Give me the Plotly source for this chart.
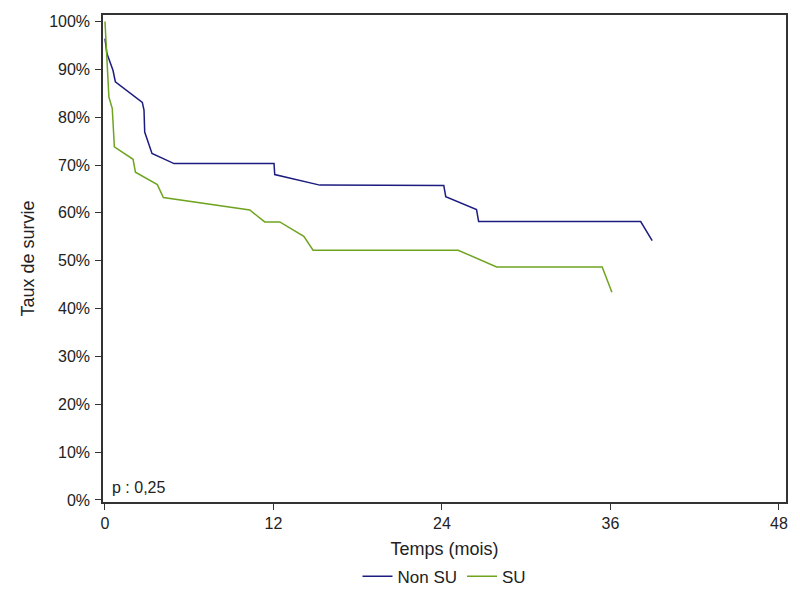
import plotly.graph_objects as go

# Kaplan-Meier curves (months, % survival)
t_non_su = [0, 0.05, 0.14, 0.57, 0.74, 2.66, 2.78, 2.83, 3.35, 4.92, 12.04, 12.09,
            15.30, 24.13, 24.27, 26.46, 26.61, 38.15, 38.97]
s_non_su = [96.4, 95.0, 93.3, 89.8, 87.4, 83.1, 81.5, 76.9, 72.4, 70.3, 70.3, 68.0,
            65.8, 65.7, 63.4, 60.7, 58.2, 58.2, 54.2]

t_su = [0, 0.28, 0.52, 0.67, 2.00, 2.17, 3.73, 4.16, 10.31, 11.38, 12.45, 14.16,
        14.82, 25.15, 27.89, 35.41, 36.10]
s_su = [100, 84.2, 81.8, 73.8, 71.2, 68.5, 65.9, 63.2, 60.6, 58.1, 58.1, 55.1,
        52.2, 52.2, 48.7, 48.7, 43.4]

x_ticks = [0, 12, 24, 36, 48]
y_ticks = list(range(0, 101, 10))
y_labels = ['{}%'.format(v) for v in y_ticks]

font = 'Liberation Sans, Arial, sans-serif'

trace1 = go.Scatter(x=t_non_su, y=s_non_su, mode='lines', name='Non SU',
                    line={'color': '#1c1c80', 'width': 1.5})
trace2 = go.Scatter(x=t_su, y=s_su, mode='lines', name='SU',
                    line={'color': '#6fa421', 'width': 1.5})

fig = go.Figure(data=[trace1, trace2])

axis_style = dict(showline=True, mirror=True, linecolor='#333333', linewidth=1.5,
                  ticks='outside', ticklen=6, tickcolor='#333333', tickwidth=1.2,
                  showgrid=False, zeroline=False, automargin=False,
                  tickfont={'size': 16, 'color': '#222222'})

# page body has an 8px margin, so the figure is sized 784x584
fig.update_layout(
    width=784, height=584,
    margin={'l': 95, 'r': 6, 't': 7, 'b': 90, 'autoexpand': False},
    plot_bgcolor='white', paper_bgcolor='white',
    font={'family': font, 'color': '#222222'},
    showlegend=True,
    legend={'orientation': 'h', 'x': 0.5, 'xanchor': 'center', 'yref': 'container',
            'y': 0.026, 'yanchor': 'middle', 'font': {'size': 17}},
    xaxis=dict(axis_style, range=[-0.14, 48.5], tickvals=x_ticks,
               title={'text': 'Temps (mois)', 'font': {'size': 18}, 'standoff': 14}),
    yaxis=dict(axis_style, range=[-0.42, 101.35], tickvals=y_ticks, ticktext=y_labels,
               ticklabelstandoff=2,
               title={'text': 'Taux de survie', 'font': {'size': 18}, 'standoff': 10}),
)

fig.add_annotation(text='p : 0,25', xref='paper', yref='paper', x=0.01, y=0.030,
                   xanchor='left', yanchor='middle', showarrow=False,
                   font={'size': 16})

fig.write_html("out.html")
